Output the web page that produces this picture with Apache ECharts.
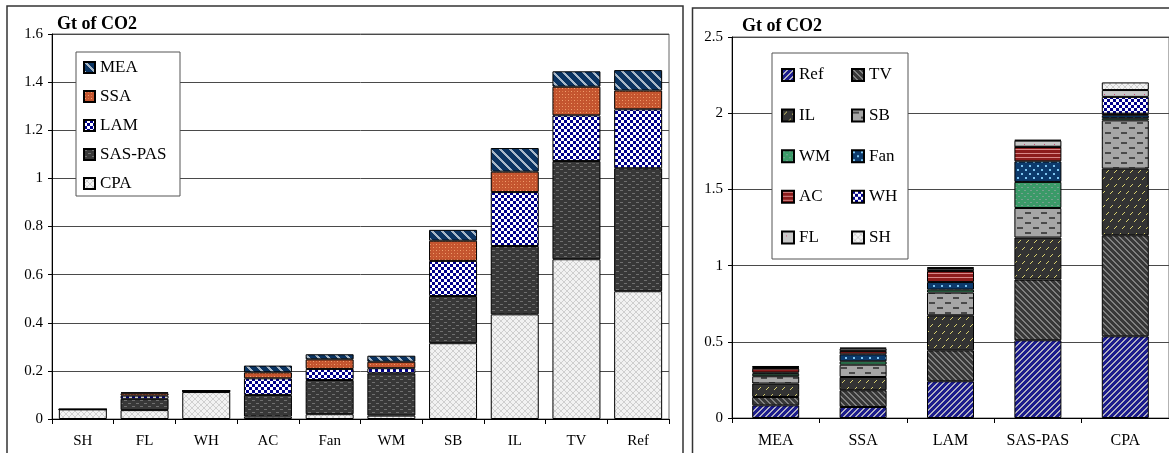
<!DOCTYPE html>
<html>
<head>
<meta charset="utf-8">
<script src="https://cdn.jsdelivr.net/npm/echarts@6/dist/echarts.min.js"></script>
<style>
html,body{margin:0;padding:0;background:#fff;}
#c{width:1169px;height:453px;}
</style>
</head>
<body>
<div id="c"></div>
<script>
// ---------- Left panel data (by end use) ----------
const catsL = ['SH','FL','WH','AC','Fan','WM','SB','IL','TV','Ref'];
const CPA     = [0.040,0.037,0.112,0.010,0.020,0.014,0.315,0.435,0.664,0.531];
const SAS_PAS = [0.000,0.047,0.003,0.090,0.142,0.176,0.196,0.284,0.408,0.511];
const LAM     = [0.000,0.013,0.001,0.069,0.046,0.021,0.146,0.224,0.190,0.245];
const SSA     = [0.000,0.010,0.001,0.025,0.040,0.027,0.084,0.085,0.119,0.078];
const MEA     = [0.000,0.004,0.001,0.028,0.021,0.025,0.045,0.098,0.064,0.085];
const yTicksL = [0,0.2,0.4,0.6,0.8,1,1.2,1.4,1.6];

// ---------- Right panel data (by region) ----------
const catsR = ['MEA','SSA','LAM','SAS-PAS','CPA'];
const Ref = [0.083,0.072,0.241,0.510,0.536];
const TV  = [0.055,0.110,0.203,0.398,0.663];
const IL  = [0.088,0.087,0.230,0.276,0.437];
const SB  = [0.048,0.081,0.149,0.194,0.317];
const WM  = [0.017,0.022,0.019,0.171,0.014];
const Fan = [0.007,0.046,0.050,0.135,0.020];
const AC  = [0.026,0.020,0.072,0.094,0.010];
const WH  = [0.004,0.003,0.005,0.002,0.110];
const FL  = [0.008,0.015,0.015,0.040,0.045];
const SH  = [0.004,0.005,0.005,0.005,0.050];
const yTicksR = [0,0.5,1,1.5,2,2.5];

// ---------- fill patterns ----------
function pat(w, h, draw){
  const c = document.createElement('canvas');
  c.width = w; c.height = h;
  const g = c.getContext('2d');
  draw(g, w, h);
  return {image: c, repeat: 'repeat'};
}
const pCross = pat(6,6,(g)=>{g.fillStyle='#f2f2f2';g.fillRect(0,0,6,6);g.fillStyle='#cfcfcf';
  for(let i=0;i<6;i++){g.fillRect(i,i,1,1);g.fillRect(5-i,i,1,1);} });
const pDarkDash = pat(8,6,(g)=>{g.fillStyle='#383838';g.fillRect(0,0,8,6);g.fillStyle='#707070';
  g.fillRect(0,1,3,1);g.fillRect(4,4,3,1);});
const pChecker = pat(6,6,(g)=>{g.fillStyle='#ffffff';g.fillRect(0,0,6,6);g.fillStyle='#00008a';
  g.fillRect(0,0,3,3);g.fillRect(3,3,3,3);});
const pOrange = pat(6,6,(g)=>{g.fillStyle='#c4552f';g.fillRect(0,0,6,6);g.fillStyle='#f0a070';
  g.fillRect(1,1,1,1);g.fillRect(4,4,1,1);g.fillStyle='#e07848';g.fillRect(4,1,1,1);g.fillRect(1,4,1,1);});
const pMEA = pat(10,10,(g)=>{g.fillStyle='#0b3462';g.fillRect(0,0,10,10);g.fillStyle='#a8b8c8';
  for(let i=0;i<10;i++){g.fillRect(i,i,3,1); if(i>7) g.fillRect(i-10,i,3,1);} g.fillRect(0,8,1,1);g.fillRect(0,9,2,1);});
const pRef = pat(6,6,(g)=>{g.fillStyle='#1c1c8c';g.fillRect(0,0,6,6);g.fillStyle='#b0b0c0';
  for(let i=0;i<6;i++){const x=(5-i+6)%6; g.fillRect(x,i,2,1); if(x===5) g.fillRect(0,i,1,1);} });
const pTV = pat(6,6,(g)=>{g.fillStyle='#383838';g.fillRect(0,0,6,6);g.fillStyle='#808080';
  for(let i=0;i<6;i++){g.fillRect(i,i,2,1); if(i===5) g.fillRect(0,i,1,1);} });
const pIL = pat(8,14,(g)=>{g.fillStyle='#333333';g.fillRect(0,0,8,14);g.fillStyle='#d8d070';
  g.fillRect(4,2,1,1);g.fillRect(3,3,1,1);g.fillRect(2,4,1,1);
  g.fillRect(0,9,1,1);g.fillRect(7,10,1,1);g.fillRect(6,11,1,1);});
const pSB = pat(16,10,(g)=>{g.fillStyle='#a6a6a6';g.fillRect(0,0,16,10);g.fillStyle='#4a4a4a';
  g.fillRect(1,2,6,2);g.fillRect(9,7,6,2);});
const pWM = pat(6,6,(g)=>{g.fillStyle='#3a9a68';g.fillRect(0,0,6,6);g.fillStyle='#78a090';
  g.fillRect(1,1,2,1);g.fillRect(4,4,2,1);});
const pFan = pat(8,8,(g)=>{g.fillStyle='#0c3a6c';g.fillRect(0,0,8,8);g.fillStyle='#7cc4f0';
  g.fillRect(1,1,2,2);g.fillRect(5,5,2,2);});
const pAC = pat(4,4,(g)=>{g.fillStyle='#8c1c1c';g.fillRect(0,0,4,4);g.fillStyle='#d88888';g.fillRect(0,1,4,1);});
const pFL = pat(10,10,(g)=>{g.fillStyle='#c8c8c8';g.fillRect(0,0,10,10);g.fillStyle='#d04878';g.fillRect(4,4,1,1);});

const FONT = '"Liberation Serif","Times New Roman",serif';

function barSeries(name, data, color, ax, stack, bw){
  return {name, type:'bar', stack, data, xAxisIndex:ax, yAxisIndex:ax, barWidth:bw,
    itemStyle:{color:color, borderColor:'#000', borderWidth:1}, emphasis:{disabled:true}};
}

const chart = echarts.init(document.getElementById('c'));
const axisLabelY = {fontFamily:FONT, fontSize:15, color:'#000', margin:9};
chart.setOption({
  animation:false,
  backgroundColor:'#fff',
  title:[
    {text:'Gt of CO2', left:57, top:15, padding:0, textStyle:{fontFamily:FONT, fontWeight:'bold', fontSize:18, color:'#000'}},
    {text:'Gt of CO2', left:742, top:17, padding:0, textStyle:{fontFamily:FONT, fontWeight:'bold', fontSize:18, color:'#000'}}
  ],
  graphic:[
    {type:'rect', z:0, shape:{x:7,y:6,width:676,height:470}, style:{fill:'none', stroke:'#333', lineWidth:1.5}},
    {type:'rect', z:0, shape:{x:692.5,y:8,width:490,height:470}, style:{fill:'none', stroke:'#333', lineWidth:1.5}},
    {type:'rect', z:3, shape:{x:76,y:52,width:104,height:144}, style:{fill:'#fff', stroke:'#555', lineWidth:1}},
    {type:'rect', z:3, shape:{x:772,y:53,width:136,height:206}, style:{fill:'#fff', stroke:'#555', lineWidth:1}}
  ],
  legend:[
    {data:['MEA','SSA','LAM','SAS-PAS','CPA'], orient:'vertical', left:83, top:59, z:5,
     icon:'rect', itemWidth:11, itemHeight:11, itemGap:12, selectedMode:false, padding:0,
     textStyle:{fontFamily:FONT, fontSize:17, color:'#000', lineHeight:11}},
    {data:['Ref','IL','WM','AC','FL'], orient:'vertical', left:781, top:66.5, z:5,
     icon:'rect', itemWidth:12, itemHeight:12, itemGap:23.6, selectedMode:false, padding:0,
     textStyle:{fontFamily:FONT, fontSize:17, color:'#000', lineHeight:12}},
    {data:['TV','SB','Fan','WH','SH'], orient:'vertical', left:851, top:66.5, z:5,
     icon:'rect', itemWidth:12, itemHeight:12, itemGap:23.6, selectedMode:false, padding:0,
     textStyle:{fontFamily:FONT, fontSize:17, color:'#000', lineHeight:12}}
  ],
  grid:[
    {left:52, right:500, top:34, bottom:34, show:true, borderColor:'#666', borderWidth:1, backgroundColor:'transparent'},
    {left:732, right:0, top:37, bottom:35, show:true, borderColor:'#666', borderWidth:1, backgroundColor:'transparent'}
  ],
  xAxis:[
    {type:'category', gridIndex:0, data:catsL,
     axisLine:{lineStyle:{color:'#000', width:1}},
     axisTick:{show:true, alignWithLabel:false, length:5, lineStyle:{color:'#000'}},
     axisLabel:{fontFamily:FONT, fontSize:15, color:'#000', margin:15}},
    {type:'category', gridIndex:1, data:catsR,
     axisLine:{lineStyle:{color:'#000', width:1}},
     axisTick:{show:true, alignWithLabel:false, length:5, lineStyle:{color:'#000'}},
     axisLabel:{fontFamily:FONT, fontSize:16, color:'#000', margin:15}}
  ],
  yAxis:[
    {type:'value', gridIndex:0, min:yTicksL[0], max:yTicksL[yTicksL.length-1], interval:0.2,
     axisLine:{show:true, lineStyle:{color:'#000'}},
     axisTick:{show:true, length:4, lineStyle:{color:'#000'}},
     axisLabel:axisLabelY,
     splitLine:{lineStyle:{color:'#4a4a4a', width:1}}},
    {type:'value', gridIndex:1, min:yTicksR[0], max:yTicksR[yTicksR.length-1], interval:0.5,
     axisLine:{show:true, lineStyle:{color:'#000'}},
     axisTick:{show:true, length:4, lineStyle:{color:'#000'}},
     axisLabel:axisLabelY,
     splitLine:{lineStyle:{color:'#4a4a4a', width:1}}}
  ],
  series:[
    barSeries('CPA', CPA, pCross, 0, 'L', 48),
    barSeries('SAS-PAS', SAS_PAS, pDarkDash, 0, 'L', 48),
    barSeries('LAM', LAM, pChecker, 0, 'L', 48),
    barSeries('SSA', SSA, pOrange, 0, 'L', 48),
    barSeries('MEA', MEA, pMEA, 0, 'L', 48),
    barSeries('Ref', Ref, pRef, 1, 'R', 47),
    barSeries('TV', TV, pTV, 1, 'R', 47),
    barSeries('IL', IL, pIL, 1, 'R', 47),
    barSeries('SB', SB, pSB, 1, 'R', 47),
    barSeries('WM', WM, pWM, 1, 'R', 47),
    barSeries('Fan', Fan, pFan, 1, 'R', 47),
    barSeries('AC', AC, pAC, 1, 'R', 47),
    barSeries('WH', WH, pChecker, 1, 'R', 47),
    barSeries('FL', FL, pFL, 1, 'R', 47),
    barSeries('SH', SH, pCross, 1, 'R', 47)
  ]
});
</script>
</body>
</html>
